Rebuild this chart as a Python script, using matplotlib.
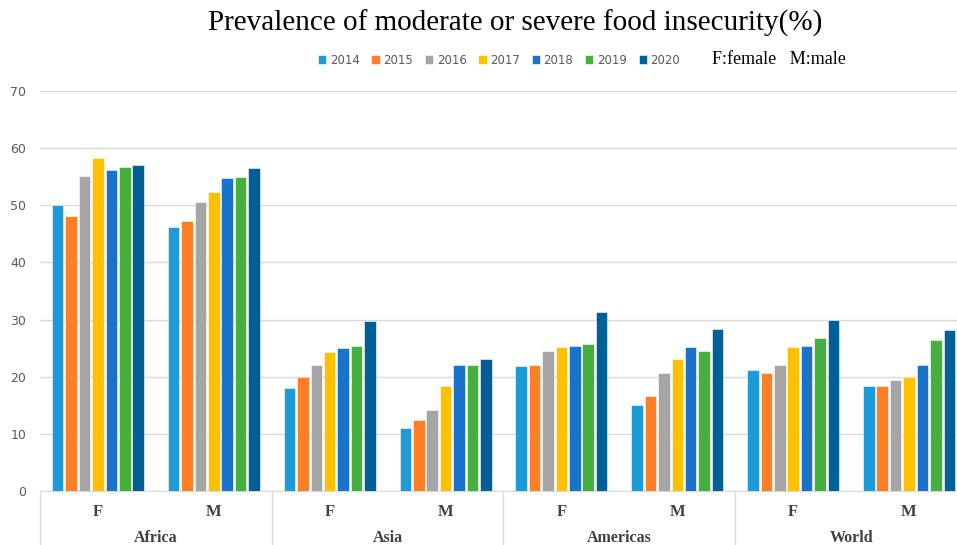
import matplotlib
matplotlib.use("Agg")
import matplotlib.pyplot as plt
import numpy as np

years = ["2014", "2015", "2016", "2017", "2018", "2019", "2020"]
regions = ["Africa", "Asia", "Americas", "World"]
sexes = ["F", "M"]

# values per year, ordered: Africa F, Africa M, Asia F, Asia M, Americas F, Americas M, World F, World M
v2014 = [50.0, 46.2, 18.1, 11.1, 21.8, 15.1, 21.2, 18.3]
v2015 = [48.1, 47.3, 20.0, 12.4, 22.1, 16.6, 20.6, 18.3]
v2016 = [55.1, 50.5, 22.1, 14.2, 24.5, 20.6, 22.1, 19.5]
v2017 = [58.2, 52.3, 24.3, 18.3, 25.2, 23.1, 25.2, 20.0]
v2018 = [56.1, 54.7, 25.0, 22.1, 25.4, 25.2, 25.4, 22.0]
v2019 = [56.7, 55.0, 25.4, 22.1, 25.8, 24.5, 26.7, 26.4]
v2020 = [57.1, 56.5, 29.8, 23.1, 31.3, 28.3, 30.0, 28.2]
series = [v2014, v2015, v2016, v2017, v2018, v2019, v2020]

colors = ["#1E9BD7", "#FF7F27", "#A5A5A5", "#FFC000", "#1A72C9", "#46B03E", "#005F96"]

fig = plt.figure(figsize=(9.57, 5.45), dpi=100)
W, H = 957, 545
ax = fig.add_axes([40 / W, (H - 491) / H, (967 - 40) / W, 400 / H])

n = len(series)
x = np.arange(len(v2014))
slot = 0.81 / n
for i, (vals, c) in enumerate(zip(series, colors)):
    ax.bar(x - 0.405 + slot * (i + 0.5), vals, width=slot * 0.86, color=c,
           edgecolor="white", linewidth=0.4, label=years[i], zorder=3)

ax.set_xlim(-0.5, len(x) - 0.5)
ax.set_ylim(0, 70)
ax.set_yticks(range(0, 71, 10))
ax.tick_params(axis="y", length=0, labelsize=9, labelcolor="#595959", pad=10)
ax.tick_params(axis="x", length=0, labelbottom=False)
ax.grid(axis="y", color="#D9D9D9", linewidth=1, zorder=0)
for s in ["left", "right", "top"]:
    ax.spines[s].set_visible(False)
ax.spines["bottom"].set_color("#D9D9D9")

tr = ax.get_xaxis_transform()
for k in range(len(regions) + 1):
    xb = -0.5 + 2 * k
    ax.plot([xb, xb], [0, -0.15], color="#D9D9D9", linewidth=1, transform=tr, clip_on=False)
for j in range(len(x)):
    ax.text(x[j], -0.052, sexes[j % 2], transform=tr, ha="center", va="center",
            fontsize=12, fontweight="bold", family="Liberation Serif", color="#404040")
for k, r in enumerate(regions):
    ax.text(2 * k + 0.5, -0.118, r, transform=tr, ha="center", va="center",
            fontsize=11.5, fontweight="bold", family="Liberation Serif", color="#404040")

fig.text(515 / W, 1 - 23 / H, "Prevalence of moderate or severe food insecurity(%)",
         ha="center", va="center", fontsize=21, family="Liberation Serif", color="black")

leg = fig.legend(loc="center left", bbox_to_anchor=(318 / W, 1 - 60 / H), ncol=7,
                 frameon=False, fontsize=8.5, handlelength=0.7, handleheight=0.7,
                 handletextpad=0.3, columnspacing=1.0, borderaxespad=0, borderpad=0)
for t in leg.get_texts():
    t.set_color("#595959")
fig.text(712 / W, 1 - 60 / H, "F:female   M:male", ha="left", va="center",
         fontsize=13, family="Liberation Serif", color="black")

fig.savefig("out.png", dpi=100)
